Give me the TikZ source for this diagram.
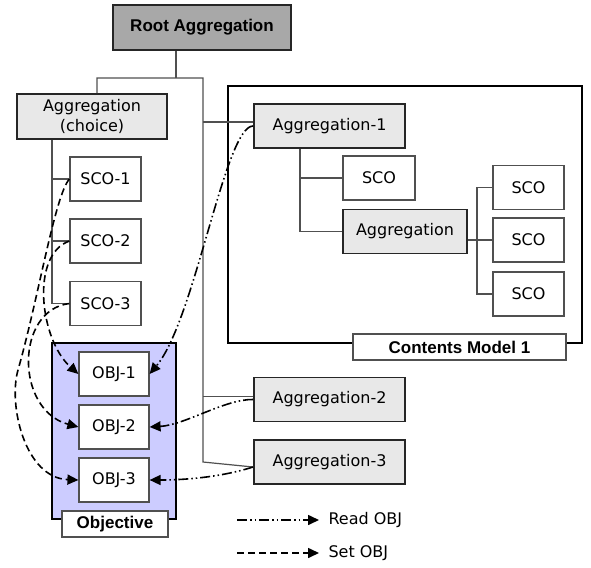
\documentclass[tikz,border=0pt]{standalone}
\usepackage{fontspec}
\setmainfont{DejaVu Sans}
\newfontfamily\titlefont{Liberation Sans}
\usepackage{tikz}
\usetikzlibrary{arrows.meta, positioning}
\definecolor{rootgray}{RGB}{168,168,168}
\definecolor{agggray}{RGB}{232,232,232}
\definecolor{objblue}{RGB}{204,204,255}
\definecolor{edgegray}{RGB}{80,80,80}

\begin{document}
\begin{tikzpicture}[
    x=1pt, y=-1pt,
    font=\fontsize{16}{19}\selectfont,
    aggbox/.style={draw=black!85, line width=1.9pt, fill=agggray, minimum width=151pt, minimum height=44pt, inner sep=0pt},
    scobox/.style={draw=edgegray, line width=1.2pt, fill=white, minimum width=71pt, minimum height=44pt, inner sep=0pt},
    groupframe/.style={draw=black, line width=2pt, inner sep=0pt},
    tagbox/.style={draw=edgegray, line width=1.1pt, fill=white, inner sep=0pt, minimum height=26pt, font=\titlefont\bfseries\fontsize{17}{20}\selectfont},
    tree/.style={draw=edgegray, line width=1.2pt},
    readobj/.style={-{Triangle[length=11pt,width=10pt]}, line width=1.6pt, dash pattern=on 10pt off 3pt on 1.5pt off 3pt on 1.5pt off 3pt},
    setobj/.style={-{Triangle[length=11pt,width=10pt]}, line width=1.6pt, dash pattern=on 7pt off 4pt}
]
    \useasboundingbox (0,0) rectangle (591,567);

    % Frames
    \node[groupframe, minimum width=354pt, minimum height=257pt] (cmframe) at (405,214.5) {};
    \node[groupframe, fill=objblue, minimum width=124pt, minimum height=176pt] (objframe) at (114,431) {};

    % Left tree
    \node[aggbox, fill=rootgray, minimum width=178pt, minimum height=45pt, font=\titlefont\bfseries\fontsize{17}{20}\selectfont] (root) at (202,27.5) {Root Aggregation};
    \node[aggbox, minimum width=150pt, minimum height=45pt, align=center, font=\fontsize{16}{20}\selectfont] (choice) at (92,116.5) {Aggregation\\(choice)};
    \node[scobox] (sco1) at (105.5,179) {SCO-1};
    \node[scobox] (sco2) at (105.5,241) {SCO-2};
    \node[scobox] (sco3) at (105.5,303.5) {SCO-3};

    \node[scobox, minimum width=70pt] (obj1) at (114,374) {OBJ-1};
    \node[scobox, minimum width=70pt] (obj2) at (114,427) {OBJ-2};
    \node[scobox, minimum width=70pt] (obj3) at (114,480) {OBJ-3};

    % Contents model
    \node[aggbox] (agg1) at (329.5,126) {Aggregation-1};
    \node[scobox, minimum width=72pt] (insco) at (379,178) {SCO};
    \node[aggbox, minimum width=124pt] (inagg) at (405,231.5) {Aggregation};
    \node[scobox] (scoa) at (528.5,187.5) {SCO};
    \node[scobox] (scob) at (528.5,240) {SCO};
    \node[scobox] (scoc) at (528.5,294) {SCO};

    \node[aggbox] (agg2) at (329.5,399.5) {Aggregation-2};
    \node[aggbox] (agg3) at (329.5,462) {Aggregation-3};

    \node[tagbox, minimum width=213pt] (cmtag) at (459.5,347) {Contents Model 1};
    \node[tagbox, minimum width=106pt] (objtag) at (115,524) {Objective};

    % Connections
    \coordinate (rootdrop) at (176,78);
    \coordinate (trunk) at (203,78);
    \coordinate (cbus) at (52,139);
    \coordinate (abus) at (300,148);
    \coordinate (sbus) at (477,187);

    \draw[tree] (rootdrop |- root.south) -- (rootdrop);
    \draw[tree] ([xshift=5pt]choice.north) |- (trunk) -- (trunk |- agg3.west) -- ([yshift=-5pt]agg3.west);
    \draw[tree] (trunk |- agg1.west) ++(0,-4) -- ([yshift=4pt]agg1.west);
    \draw[tree] (trunk |- agg2.west) ++(0,-3) -- ([yshift=3pt]agg2.west);

    \draw[tree] (cbus |- choice.south) -- (cbus |- sco3.west) -- (sco3.west);
    \draw[tree] (cbus |- sco1.west) -- (sco1.west);
    \draw[tree] (cbus |- sco2.west) -- (sco2.west);

    \draw[tree] (abus |- agg1.south) -- (abus |- inagg.west) -- (inagg.west);
    \draw[tree] (abus |- insco.west) -- (insco.west);
    \draw[tree] (inagg.east |- scob.west) -- (scob.west);
    \draw[tree] (scoa.west) -- (sbus |- scoa.west) -- (sbus |- scoc.west) -- (scoc.west);

    % Read OBJ
    \draw[readobj] (agg1.west) .. controls (225,126) and (195,320) .. (obj1.east);
    \draw[readobj] (agg2.west) .. controls (225,399) and (185,425) .. (obj2.east);
    \draw[readobj] ([yshift=-5pt]agg3.west) .. controls (225,476) and (190,480) .. (obj3.east);

    % Set OBJ
    \draw[setobj] (sco1.west) .. controls (55,195) and (38,300) .. (18,370) .. controls (8,405) and (25,478) .. (obj3.west);
    \draw[setobj] (sco2.west) .. controls (30,255) and (40,340) .. (obj1.west);
    \draw[setobj] (sco3.west) .. controls (15,310) and (15,410) .. (obj2.west);

    % Legend
    \coordinate (readstart) at (237,520);
    \coordinate (setstart) at (237,553);
    \node[anchor=west] (readlbl) at (325,520) {Read OBJ};
    \node[anchor=west] (setlbl) at (325,553) {Set OBJ};
    \draw[readobj] (readstart) -- ([xshift=-6pt]readlbl.west);
    \draw[setobj] (setstart) -- ([xshift=-6pt]setlbl.west);
\end{tikzpicture}
\end{document}
